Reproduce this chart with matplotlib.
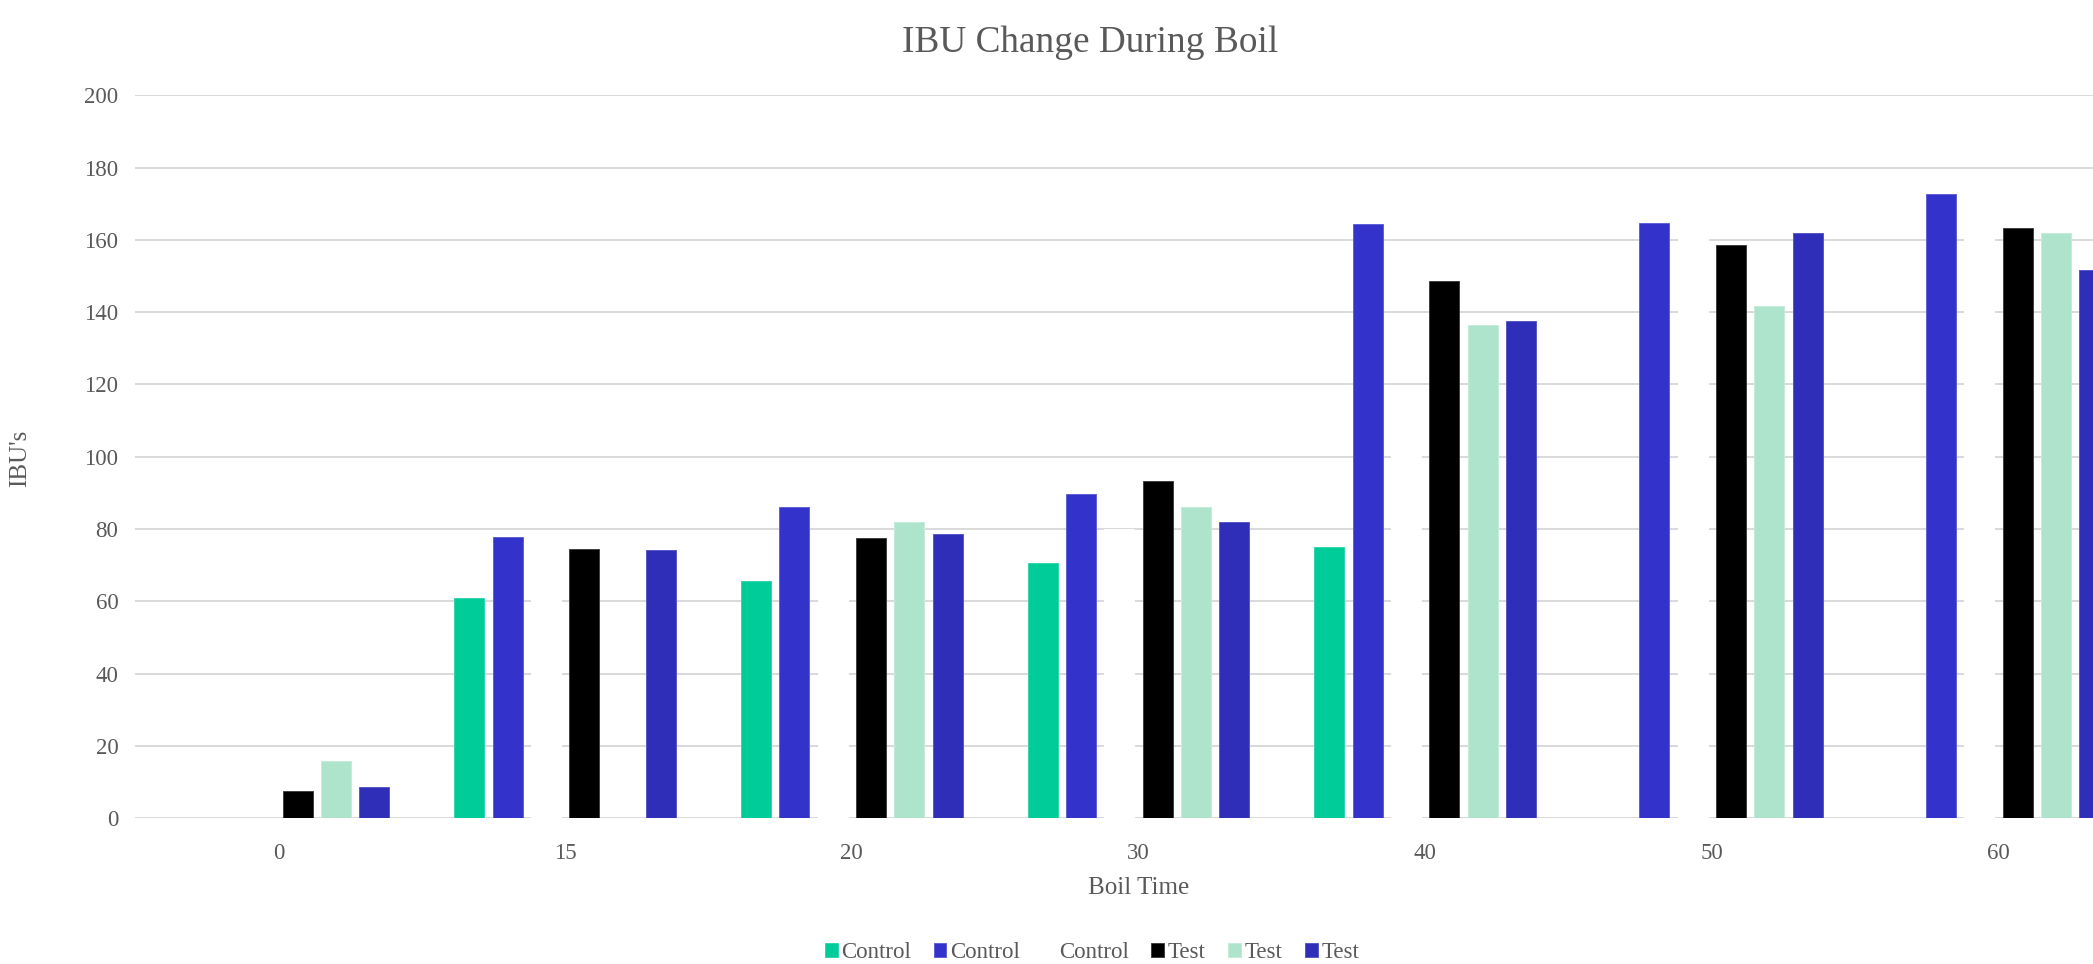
import numpy as np
import matplotlib.pyplot as plt

plt.rcParams['font.family'] = ['Liberation Serif', 'DejaVu Serif']

# boil time categories and IBU readings per series
boil_time = ['0', '15', '20', '30', '40', '50', '60']
series_names = ['Control', 'Control', 'Control', 'Test', 'Test', 'Test']
control_a = [0, 60.9, 65.7, 70.5, 75.0, 0, 0]
control_b = [0, 77.9, 86.0, 89.7, 164.3, 164.8, 172.6]
control_c = [0, 69.4, 75.9, 80.1, 119.7, 164.8, 172.6]
test_a = [7.6, 74.6, 77.5, 93.4, 148.5, 158.5, 163.2]
test_b = [15.9, 0, 82.1, 86.1, 136.5, 141.8, 162.0]
test_c = [8.6, 74.2, 78.6, 81.9, 137.5, 161.8, 151.8]

colors = ['#00CC99', '#3333CC', '#FFFFFF', '#000000', '#ADE4CB', '#2E2EB8']
edges = ['#33D6AD', '#6060D8', '#FFFFFF', '#404040', '#C4ECDA', '#5858C8']
all_series = [control_a, control_b, control_c, test_a, test_b, test_c]

fig = plt.figure(figsize=(20.93, 9.64), dpi=100)
# plot area runs past the right edge of the figure
ax = fig.add_axes([135/2093, 145.7/964, 2007/2093, 723/964])

x = np.arange(len(boil_time))
step = 0.1336
width = 0.1046
for i, (vals, col, name) in enumerate(zip(all_series, colors, series_names)):
    ax.bar(x + (i - 2.5)*step, vals, width, color=col, edgecolor=edges[i],
           linewidth=0.7, label=name, zorder=3)

ax.set_xlim(-0.5, len(boil_time) - 0.5)
ax.set_ylim(0, 200)
ax.set_yticks(np.arange(0, 201, 20))
ax.set_xticks(x)
ax.set_xticklabels(boil_time)
ax.yaxis.grid(True, color='#D9D9D9', lw=1.4, zorder=0)
ax.set_axisbelow(True)
for s in ax.spines.values():
    s.set_visible(False)
ax.tick_params(length=0, labelsize=16.5, colors='#595959', pad=12)
ax.tick_params(axis='x', pad=18)

ax.set_xlabel('Boil Time', fontsize=18, color='#595959', labelpad=9)
fig.text(20/2093, 1 - 458/964, "IBU's", rotation=90, fontsize=18, color='#595959',
         ha='center', va='center')
fig.text(1090/2093, 1 - 43/964, 'IBU Change During Boil', fontsize=26.8, color='#595959',
         ha='center', va='center')

fig.legend(loc='center', bbox_to_anchor=(1092/2093, 1 - 953/964), ncol=6, frameon=False,
           fontsize=16.5, labelcolor='#595959', handlelength=0.55, handleheight=0.55,
           handletextpad=0.15, columnspacing=1.0, borderaxespad=0)

fig.savefig('out.png')
